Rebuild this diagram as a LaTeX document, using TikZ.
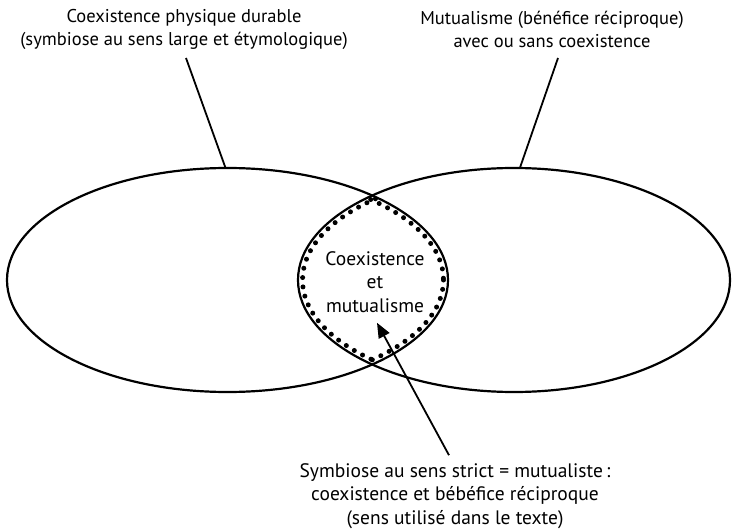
\documentclass[tikz,border=0pt]{standalone}
\usepackage{fontspec}
\setmainfont{PT Sans}
\usetikzlibrary{arrows.meta, positioning, shapes.geometric}

\begin{document}
\begin{tikzpicture}[
                x=1pt, y=-1pt,
                set/.style={draw, ellipse, line width=2.2pt, inner sep=0pt, outer sep=0pt},
                label/.style={align=center, inner sep=2pt, font=\fontsize{19.5}{23.5}\selectfont},
                toplabel/.style={label, font=\fontsize{18.5}{23}\selectfont},
                lead/.style={line width=1.8pt},
                pointer/.style={line width=1.8pt, -{Triangle[length=15pt, width=12pt]}},
                beads/.style={line width=5pt, line cap=round, dash pattern=on 0pt off 9.4pt},
            ]
                \useasboundingbox (0,0) rectangle (733,529);

                % Sets
                \node[set, minimum width=441pt, minimum height=224pt] (leftset) at (227.5,280) {};
                \node[set, minimum width=432pt, minimum height=224pt] (rightset) at (514,280) {};

                % Dotted rim of the overlap
                \begin{scope}
                    \clip (leftset.center) ellipse [x radius=220.5, y radius=112];
                    \draw[beads] (rightset.center) ellipse [x radius=211.5, y radius=107.5];
                \end{scope}
                \begin{scope}
                    \clip (rightset.center) ellipse [x radius=216, y radius=112];
                    \draw[beads] (leftset.center) ellipse [x radius=216, y radius=107.5];
                \end{scope}

                % Labels
                \node[toplabel] (leftlab) at (184,29) {Coexistence physique durable\\(symbiose au sens large et étymologique)};
                \node[toplabel] (rightlab) at (552,29) {Mutualisme (bénéfice réciproque)\\avec ou sans coexistence};
                \node[label] (inter) at (375,282) {Coexistence\\et\\mutualisme};
                \node[label] (symlab) at (455,496) {Symbiose au sens strict = mutualiste\,:\\coexistence et bébéfice réciproque\\(sens utilisé dans le texte)};

                % Leaders
                \coordinate (lefttop) at (186,58);
                \coordinate (righttop) at (558,58);
                \draw[lead] (lefttop) -- (leftset.91);
                \draw[lead] (righttop) -- (rightset.87);

                % Arrow to the overlap
                \draw[pointer] ([xshift=-6pt, yshift=6pt]symlab.north) -- ([xshift=2pt, yshift=-8pt]inter.south);
            \end{tikzpicture}
\end{document}
